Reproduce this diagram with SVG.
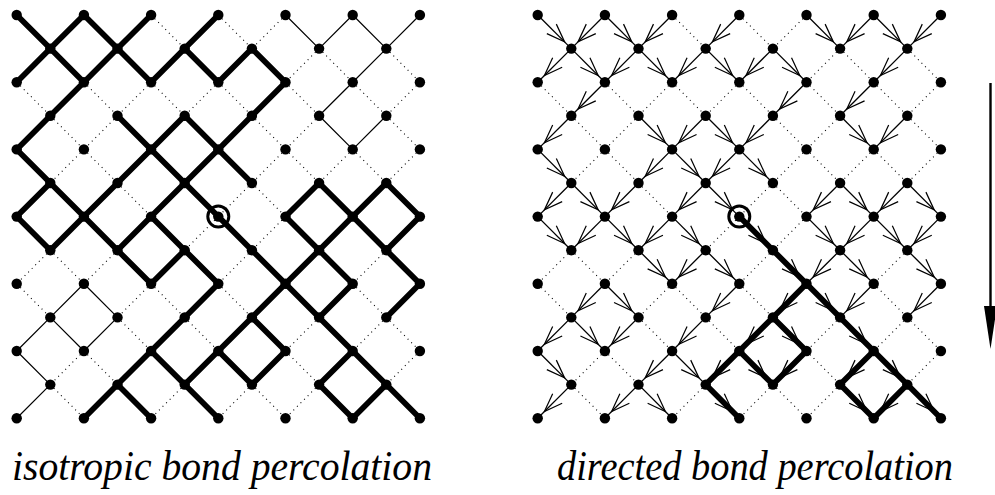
<svg xmlns="http://www.w3.org/2000/svg" width="995" height="495" viewBox="0 0 995 495">
<style>
.d{fill:none;stroke:#000;stroke-width:3.3;stroke-dasharray:3 12}
.t{fill:none;stroke:#000;stroke-width:3.6;stroke-linecap:round}
.T{fill:none;stroke:#000;stroke-width:17;stroke-linecap:round;stroke-linejoin:round}
.a{stroke:#000;stroke-width:3.9;marker-end:url(#chev)}
.n circle{fill:#000}
.n circle.o{fill:none;stroke:#000;stroke-width:8.9}
.lab{font-family:"Liberation Serif","Times New Roman",serif;font-style:italic;font-size:42px;fill:#000}
</style>
<defs>
<marker id="chev" markerUnits="userSpaceOnUse" orient="auto" overflow="visible" markerWidth="1" markerHeight="1" refX="0" refY="0">
<path d="M-83,-20L-28.3,0L-83,20" fill="none" stroke="#000" stroke-width="3.6"/>
</marker>
</defs>

<g id="connectors">
<g id="left-connectors" transform="translate(16.7,15) scale(0.336)">
<path class="d" d="M400 0L500 100M600 0L700 100M800 0L700 100M900 100L800 200M900 100L1000 200M1100 100L1200 200M0 200L100 300M200 200L300 300M400 200L300 300M400 200L500 300M600 200L500 300M600 200L700 300M800 200L900 300M1000 200L1100 300M1200 200L1100 300M100 300L200 400M300 300L200 400M700 300L800 400M900 300L800 400M1100 300L1200 400M200 400L100 500M200 400L300 500M800 400L700 500M800 400L900 500M1000 400L900 500M1000 400L1100 500M1200 400L1100 500M300 500L400 600M700 500L600 600M700 500L800 600M600 600L500 700M800 600L700 700M100 700L0 800M100 700L200 800M300 700L200 800M700 700L600 800M1100 700L1000 800M0 800L100 900M400 800L300 900M400 800L500 900M600 800L700 900M1000 800L1100 900M300 900L400 1000M500 900L600 1000M900 900L800 1000M1100 900L1000 1000M1100 900L1200 1000M200 1000L100 1100M200 1000L300 1100M800 1000L900 1100M1200 1000L1100 1100M100 1100L200 1200M500 1100L400 1200M700 1100L600 1200M700 1100L800 1200M900 1100L800 1200"/>
<path class="t" d="M800 0L900 100M1000 0L900 100M1000 0L1100 100M1200 0L1100 100M1100 100L1000 200M1000 200L900 300M900 300L1000 400M1100 300L1000 400M200 800L100 900M200 800L300 900M100 900L0 1000M100 900L200 1000M300 900L200 1000M0 1000L100 1100M100 1100L0 1200"/>
<path class="T" d="M0 0L100 100M200 0L100 100M200 0L300 100M400 0L300 100M600 0L500 100M100 100L0 200M100 100L200 200M300 100L200 200M300 100L400 200M500 100L400 200M500 100L600 200M700 100L600 200M700 100L800 200M200 200L100 300M800 200L700 300M100 300L0 400M300 300L400 400M500 300L400 400M500 300L600 400M700 300L600 400M0 400L100 500M400 400L300 500M400 400L500 500M600 400L500 500M600 400L700 500M100 500L0 600M100 500L200 600M300 500L200 600M500 500L400 600M500 500L600 600M900 500L800 600M900 500L1000 600M1100 500L1000 600M1100 500L1200 600M0 600L100 700M200 600L100 700M200 600L300 700M400 600L300 700M400 600L500 700M600 600L700 700M800 600L900 700M1000 600L900 700M1000 600L1100 700M1200 600L1100 700M300 700L400 800M500 700L400 800M500 700L600 800M700 700L800 800M900 700L800 800M900 700L1000 800M1100 700L1200 800M600 800L500 900M800 800L700 900M800 800L900 900M1000 800L900 900M1200 800L1100 900M500 900L400 1000M700 900L600 1000M700 900L800 1000M900 900L1000 1000M400 1000L300 1100M400 1000L500 1100M600 1000L500 1100M600 1000L700 1100M800 1000L700 1100M1000 1000L900 1100M1000 1000L1100 1100M300 1100L200 1200M300 1100L400 1200M500 1100L600 1200M900 1100L1000 1200M1100 1100L1000 1200M1100 1100L1200 1200"/>
</g>
<g id="right-connectors" transform="translate(537.7,15) scale(0.336)">
<path class="d" d="M400 0L500 100M600 0L700 100M800 0L700 100M900 100L800 200M900 100L1000 200M1100 100L1200 200M0 200L100 300M200 200L300 300M400 200L300 300M400 200L500 300M600 200L500 300M600 200L700 300M800 200L900 300M1000 200L1100 300M1200 200L1100 300M100 300L200 400M300 300L200 400M700 300L800 400M900 300L800 400M1100 300L1200 400M200 400L100 500M200 400L300 500M800 400L700 500M800 400L900 500M1000 400L900 500M1000 400L1100 500M1200 400L1100 500M300 500L400 600M700 500L600 600M700 500L800 600M600 600L500 700M800 600L700 700M100 700L0 800M100 700L200 800M300 700L200 800M700 700L600 800M1100 700L1000 800M0 800L100 900M400 800L300 900M400 800L500 900M600 800L700 900M1000 800L1100 900M300 900L400 1000M500 900L600 1000M900 900L800 1000M1100 900L1000 1000M1100 900L1200 1000M200 1000L100 1100M200 1000L300 1100M800 1000L900 1100M1200 1000L1100 1100M100 1100L200 1200M500 1100L400 1200M700 1100L600 1200M700 1100L800 1200M900 1100L800 1200"/>
<path class="T" d="M600 600L700 700M700 700L800 800M800 800L700 900M800 800L900 900M700 900L600 1000M700 900L800 1000M900 900L1000 1000M600 1000L500 1100M600 1000L700 1100M800 1000L700 1100M1000 1000L900 1100M1000 1000L1100 1100M500 1100L600 1200M900 1100L1000 1200M1100 1100L1000 1200M1100 1100L1200 1200"/>
<line class="a" x1="0" y1="0" x2="100" y2="100"/>
<line class="a" x1="200" y1="0" x2="100" y2="100"/>
<line class="a" x1="200" y1="0" x2="300" y2="100"/>
<line class="a" x1="400" y1="0" x2="300" y2="100"/>
<line class="a" x1="600" y1="0" x2="500" y2="100"/>
<line class="a" x1="800" y1="0" x2="900" y2="100"/>
<line class="a" x1="1000" y1="0" x2="900" y2="100"/>
<line class="a" x1="1000" y1="0" x2="1100" y2="100"/>
<line class="a" x1="1200" y1="0" x2="1100" y2="100"/>
<line class="a" x1="100" y1="100" x2="0" y2="200"/>
<line class="a" x1="100" y1="100" x2="200" y2="200"/>
<line class="a" x1="300" y1="100" x2="200" y2="200"/>
<line class="a" x1="300" y1="100" x2="400" y2="200"/>
<line class="a" x1="500" y1="100" x2="400" y2="200"/>
<line class="a" x1="500" y1="100" x2="600" y2="200"/>
<line class="a" x1="700" y1="100" x2="600" y2="200"/>
<line class="a" x1="700" y1="100" x2="800" y2="200"/>
<line class="a" x1="1100" y1="100" x2="1000" y2="200"/>
<line class="a" x1="200" y1="200" x2="100" y2="300"/>
<line class="a" x1="800" y1="200" x2="700" y2="300"/>
<line class="a" x1="1000" y1="200" x2="900" y2="300"/>
<line class="a" x1="100" y1="300" x2="0" y2="400"/>
<line class="a" x1="300" y1="300" x2="400" y2="400"/>
<line class="a" x1="500" y1="300" x2="400" y2="400"/>
<line class="a" x1="500" y1="300" x2="600" y2="400"/>
<line class="a" x1="700" y1="300" x2="600" y2="400"/>
<line class="a" x1="900" y1="300" x2="1000" y2="400"/>
<line class="a" x1="1100" y1="300" x2="1000" y2="400"/>
<line class="a" x1="0" y1="400" x2="100" y2="500"/>
<line class="a" x1="400" y1="400" x2="300" y2="500"/>
<line class="a" x1="400" y1="400" x2="500" y2="500"/>
<line class="a" x1="600" y1="400" x2="500" y2="500"/>
<line class="a" x1="600" y1="400" x2="700" y2="500"/>
<line class="a" x1="100" y1="500" x2="0" y2="600"/>
<line class="a" x1="100" y1="500" x2="200" y2="600"/>
<line class="a" x1="300" y1="500" x2="200" y2="600"/>
<line class="a" x1="500" y1="500" x2="400" y2="600"/>
<line class="a" x1="500" y1="500" x2="600" y2="600"/>
<line class="a" x1="900" y1="500" x2="800" y2="600"/>
<line class="a" x1="900" y1="500" x2="1000" y2="600"/>
<line class="a" x1="1100" y1="500" x2="1000" y2="600"/>
<line class="a" x1="1100" y1="500" x2="1200" y2="600"/>
<line class="a" x1="0" y1="600" x2="100" y2="700"/>
<line class="a" x1="200" y1="600" x2="100" y2="700"/>
<line class="a" x1="200" y1="600" x2="300" y2="700"/>
<line class="a" x1="400" y1="600" x2="300" y2="700"/>
<line class="a" x1="400" y1="600" x2="500" y2="700"/>
<line class="a" x1="600" y1="600" x2="700" y2="700"/>
<line class="a" x1="800" y1="600" x2="900" y2="700"/>
<line class="a" x1="1000" y1="600" x2="900" y2="700"/>
<line class="a" x1="1000" y1="600" x2="1100" y2="700"/>
<line class="a" x1="1200" y1="600" x2="1100" y2="700"/>
<line class="a" x1="300" y1="700" x2="400" y2="800"/>
<line class="a" x1="500" y1="700" x2="400" y2="800"/>
<line class="a" x1="500" y1="700" x2="600" y2="800"/>
<line class="a" x1="700" y1="700" x2="800" y2="800"/>
<line class="a" x1="900" y1="700" x2="800" y2="800"/>
<line class="a" x1="900" y1="700" x2="1000" y2="800"/>
<line class="a" x1="1100" y1="700" x2="1200" y2="800"/>
<line class="a" x1="200" y1="800" x2="100" y2="900"/>
<line class="a" x1="200" y1="800" x2="300" y2="900"/>
<line class="a" x1="600" y1="800" x2="500" y2="900"/>
<line class="a" x1="800" y1="800" x2="700" y2="900"/>
<line class="a" x1="800" y1="800" x2="900" y2="900"/>
<line class="a" x1="1000" y1="800" x2="900" y2="900"/>
<line class="a" x1="1200" y1="800" x2="1100" y2="900"/>
<line class="a" x1="100" y1="900" x2="0" y2="1000"/>
<line class="a" x1="100" y1="900" x2="200" y2="1000"/>
<line class="a" x1="300" y1="900" x2="200" y2="1000"/>
<line class="a" x1="500" y1="900" x2="400" y2="1000"/>
<line class="a" x1="700" y1="900" x2="600" y2="1000"/>
<line class="a" x1="700" y1="900" x2="800" y2="1000"/>
<line class="a" x1="900" y1="900" x2="1000" y2="1000"/>
<line class="a" x1="0" y1="1000" x2="100" y2="1100"/>
<line class="a" x1="400" y1="1000" x2="300" y2="1100"/>
<line class="a" x1="400" y1="1000" x2="500" y2="1100"/>
<line class="a" x1="600" y1="1000" x2="500" y2="1100"/>
<line class="a" x1="600" y1="1000" x2="700" y2="1100"/>
<line class="a" x1="800" y1="1000" x2="700" y2="1100"/>
<line class="a" x1="1000" y1="1000" x2="900" y2="1100"/>
<line class="a" x1="1000" y1="1000" x2="1100" y2="1100"/>
<line class="a" x1="100" y1="1100" x2="0" y2="1200"/>
<line class="a" x1="300" y1="1100" x2="200" y2="1200"/>
<line class="a" x1="300" y1="1100" x2="400" y2="1200"/>
<line class="a" x1="500" y1="1100" x2="600" y2="1200"/>
<line class="a" x1="900" y1="1100" x2="1000" y2="1200"/>
<line class="a" x1="1100" y1="1100" x2="1000" y2="1200"/>
<line class="a" x1="1100" y1="1100" x2="1200" y2="1200"/>
</g>
<g id="time-arrow">
<line x1="990.5" y1="83" x2="990.5" y2="312" stroke="#000" stroke-width="2.4"/>
<polygon points="984,306 997,306 990.5,349" fill="#000"/>
</g>
</g>

<g id="left-nodes" class="n" transform="translate(16.7,15) scale(0.336)">
<g id="L0_0"><circle cx="0" cy="0" r="15.5"/></g><g id="L2_0"><circle cx="200" cy="0" r="15.5"/></g><g id="L4_0"><circle cx="400" cy="0" r="15.5"/></g><g id="L6_0"><circle cx="600" cy="0" r="15.5"/></g><g id="L8_0"><circle cx="800" cy="0" r="15.5"/></g><g id="L10_0"><circle cx="1000" cy="0" r="15.5"/></g><g id="L12_0"><circle cx="1200" cy="0" r="15.5"/></g>
<g id="L1_1"><circle cx="100" cy="100" r="15.5"/></g><g id="L3_1"><circle cx="300" cy="100" r="15.5"/></g><g id="L5_1"><circle cx="500" cy="100" r="15.5"/></g><g id="L7_1"><circle cx="700" cy="100" r="15.5"/></g><g id="L9_1"><circle cx="900" cy="100" r="15.5"/></g><g id="L11_1"><circle cx="1100" cy="100" r="15.5"/></g>
<g id="L0_2"><circle cx="0" cy="200" r="15.5"/></g><g id="L2_2"><circle cx="200" cy="200" r="15.5"/></g><g id="L4_2"><circle cx="400" cy="200" r="15.5"/></g><g id="L6_2"><circle cx="600" cy="200" r="15.5"/></g><g id="L8_2"><circle cx="800" cy="200" r="15.5"/></g><g id="L10_2"><circle cx="1000" cy="200" r="15.5"/></g><g id="L12_2"><circle cx="1200" cy="200" r="15.5"/></g>
<g id="L1_3"><circle cx="100" cy="300" r="15.5"/></g><g id="L3_3"><circle cx="300" cy="300" r="15.5"/></g><g id="L5_3"><circle cx="500" cy="300" r="15.5"/></g><g id="L7_3"><circle cx="700" cy="300" r="15.5"/></g><g id="L9_3"><circle cx="900" cy="300" r="15.5"/></g><g id="L11_3"><circle cx="1100" cy="300" r="15.5"/></g>
<g id="L0_4"><circle cx="0" cy="400" r="15.5"/></g><g id="L2_4"><circle cx="200" cy="400" r="15.5"/></g><g id="L4_4"><circle cx="400" cy="400" r="15.5"/></g><g id="L6_4"><circle cx="600" cy="400" r="15.5"/></g><g id="L8_4"><circle cx="800" cy="400" r="15.5"/></g><g id="L10_4"><circle cx="1000" cy="400" r="15.5"/></g><g id="L12_4"><circle cx="1200" cy="400" r="15.5"/></g>
<g id="L1_5"><circle cx="100" cy="500" r="15.5"/></g><g id="L3_5"><circle cx="300" cy="500" r="15.5"/></g><g id="L5_5"><circle cx="500" cy="500" r="15.5"/></g><g id="L7_5"><circle cx="700" cy="500" r="15.5"/></g><g id="L9_5"><circle cx="900" cy="500" r="15.5"/></g><g id="L11_5"><circle cx="1100" cy="500" r="15.5"/></g>
<g id="L0_6"><circle cx="0" cy="600" r="15.5"/></g><g id="L2_6"><circle cx="200" cy="600" r="15.5"/></g><g id="L4_6"><circle cx="400" cy="600" r="15.5"/></g><g id="L6_6"><circle cx="600" cy="600" r="15.5"/><circle class="o" cx="600" cy="600" r="31.25"/></g><g id="L8_6"><circle cx="800" cy="600" r="15.5"/></g><g id="L10_6"><circle cx="1000" cy="600" r="15.5"/></g><g id="L12_6"><circle cx="1200" cy="600" r="15.5"/></g>
<g id="L1_7"><circle cx="100" cy="700" r="15.5"/></g><g id="L3_7"><circle cx="300" cy="700" r="15.5"/></g><g id="L5_7"><circle cx="500" cy="700" r="15.5"/></g><g id="L7_7"><circle cx="700" cy="700" r="15.5"/></g><g id="L9_7"><circle cx="900" cy="700" r="15.5"/></g><g id="L11_7"><circle cx="1100" cy="700" r="15.5"/></g>
<g id="L0_8"><circle cx="0" cy="800" r="15.5"/></g><g id="L2_8"><circle cx="200" cy="800" r="15.5"/></g><g id="L4_8"><circle cx="400" cy="800" r="15.5"/></g><g id="L6_8"><circle cx="600" cy="800" r="15.5"/></g><g id="L8_8"><circle cx="800" cy="800" r="15.5"/></g><g id="L10_8"><circle cx="1000" cy="800" r="15.5"/></g><g id="L12_8"><circle cx="1200" cy="800" r="15.5"/></g>
<g id="L1_9"><circle cx="100" cy="900" r="15.5"/></g><g id="L3_9"><circle cx="300" cy="900" r="15.5"/></g><g id="L5_9"><circle cx="500" cy="900" r="15.5"/></g><g id="L7_9"><circle cx="700" cy="900" r="15.5"/></g><g id="L9_9"><circle cx="900" cy="900" r="15.5"/></g><g id="L11_9"><circle cx="1100" cy="900" r="15.5"/></g>
<g id="L0_10"><circle cx="0" cy="1000" r="15.5"/></g><g id="L2_10"><circle cx="200" cy="1000" r="15.5"/></g><g id="L4_10"><circle cx="400" cy="1000" r="15.5"/></g><g id="L6_10"><circle cx="600" cy="1000" r="15.5"/></g><g id="L8_10"><circle cx="800" cy="1000" r="15.5"/></g><g id="L10_10"><circle cx="1000" cy="1000" r="15.5"/></g><g id="L12_10"><circle cx="1200" cy="1000" r="15.5"/></g>
<g id="L1_11"><circle cx="100" cy="1100" r="15.5"/></g><g id="L3_11"><circle cx="300" cy="1100" r="15.5"/></g><g id="L5_11"><circle cx="500" cy="1100" r="15.5"/></g><g id="L7_11"><circle cx="700" cy="1100" r="15.5"/></g><g id="L9_11"><circle cx="900" cy="1100" r="15.5"/></g><g id="L11_11"><circle cx="1100" cy="1100" r="15.5"/></g>
<g id="L0_12"><circle cx="0" cy="1200" r="15.5"/></g><g id="L2_12"><circle cx="200" cy="1200" r="15.5"/></g><g id="L4_12"><circle cx="400" cy="1200" r="15.5"/></g><g id="L6_12"><circle cx="600" cy="1200" r="15.5"/></g><g id="L8_12"><circle cx="800" cy="1200" r="15.5"/></g><g id="L10_12"><circle cx="1000" cy="1200" r="15.5"/></g><g id="L12_12"><circle cx="1200" cy="1200" r="15.5"/></g>
</g>

<g id="right-nodes" class="n" transform="translate(537.7,15) scale(0.336)">
<g id="R0_0"><circle cx="0" cy="0" r="15.5"/></g><g id="R2_0"><circle cx="200" cy="0" r="15.5"/></g><g id="R4_0"><circle cx="400" cy="0" r="15.5"/></g><g id="R6_0"><circle cx="600" cy="0" r="15.5"/></g><g id="R8_0"><circle cx="800" cy="0" r="15.5"/></g><g id="R10_0"><circle cx="1000" cy="0" r="15.5"/></g><g id="R12_0"><circle cx="1200" cy="0" r="15.5"/></g>
<g id="R1_1"><circle cx="100" cy="100" r="15.5"/></g><g id="R3_1"><circle cx="300" cy="100" r="15.5"/></g><g id="R5_1"><circle cx="500" cy="100" r="15.5"/></g><g id="R7_1"><circle cx="700" cy="100" r="15.5"/></g><g id="R9_1"><circle cx="900" cy="100" r="15.5"/></g><g id="R11_1"><circle cx="1100" cy="100" r="15.5"/></g>
<g id="R0_2"><circle cx="0" cy="200" r="15.5"/></g><g id="R2_2"><circle cx="200" cy="200" r="15.5"/></g><g id="R4_2"><circle cx="400" cy="200" r="15.5"/></g><g id="R6_2"><circle cx="600" cy="200" r="15.5"/></g><g id="R8_2"><circle cx="800" cy="200" r="15.5"/></g><g id="R10_2"><circle cx="1000" cy="200" r="15.5"/></g><g id="R12_2"><circle cx="1200" cy="200" r="15.5"/></g>
<g id="R1_3"><circle cx="100" cy="300" r="15.5"/></g><g id="R3_3"><circle cx="300" cy="300" r="15.5"/></g><g id="R5_3"><circle cx="500" cy="300" r="15.5"/></g><g id="R7_3"><circle cx="700" cy="300" r="15.5"/></g><g id="R9_3"><circle cx="900" cy="300" r="15.5"/></g><g id="R11_3"><circle cx="1100" cy="300" r="15.5"/></g>
<g id="R0_4"><circle cx="0" cy="400" r="15.5"/></g><g id="R2_4"><circle cx="200" cy="400" r="15.5"/></g><g id="R4_4"><circle cx="400" cy="400" r="15.5"/></g><g id="R6_4"><circle cx="600" cy="400" r="15.5"/></g><g id="R8_4"><circle cx="800" cy="400" r="15.5"/></g><g id="R10_4"><circle cx="1000" cy="400" r="15.5"/></g><g id="R12_4"><circle cx="1200" cy="400" r="15.5"/></g>
<g id="R1_5"><circle cx="100" cy="500" r="15.5"/></g><g id="R3_5"><circle cx="300" cy="500" r="15.5"/></g><g id="R5_5"><circle cx="500" cy="500" r="15.5"/></g><g id="R7_5"><circle cx="700" cy="500" r="15.5"/></g><g id="R9_5"><circle cx="900" cy="500" r="15.5"/></g><g id="R11_5"><circle cx="1100" cy="500" r="15.5"/></g>
<g id="R0_6"><circle cx="0" cy="600" r="15.5"/></g><g id="R2_6"><circle cx="200" cy="600" r="15.5"/></g><g id="R4_6"><circle cx="400" cy="600" r="15.5"/></g><g id="R6_6"><circle cx="600" cy="600" r="15.5"/><circle class="o" cx="600" cy="600" r="31.25"/></g><g id="R8_6"><circle cx="800" cy="600" r="15.5"/></g><g id="R10_6"><circle cx="1000" cy="600" r="15.5"/></g><g id="R12_6"><circle cx="1200" cy="600" r="15.5"/></g>
<g id="R1_7"><circle cx="100" cy="700" r="15.5"/></g><g id="R3_7"><circle cx="300" cy="700" r="15.5"/></g><g id="R5_7"><circle cx="500" cy="700" r="15.5"/></g><g id="R7_7"><circle cx="700" cy="700" r="15.5"/></g><g id="R9_7"><circle cx="900" cy="700" r="15.5"/></g><g id="R11_7"><circle cx="1100" cy="700" r="15.5"/></g>
<g id="R0_8"><circle cx="0" cy="800" r="15.5"/></g><g id="R2_8"><circle cx="200" cy="800" r="15.5"/></g><g id="R4_8"><circle cx="400" cy="800" r="15.5"/></g><g id="R6_8"><circle cx="600" cy="800" r="15.5"/></g><g id="R8_8"><circle cx="800" cy="800" r="15.5"/></g><g id="R10_8"><circle cx="1000" cy="800" r="15.5"/></g><g id="R12_8"><circle cx="1200" cy="800" r="15.5"/></g>
<g id="R1_9"><circle cx="100" cy="900" r="15.5"/></g><g id="R3_9"><circle cx="300" cy="900" r="15.5"/></g><g id="R5_9"><circle cx="500" cy="900" r="15.5"/></g><g id="R7_9"><circle cx="700" cy="900" r="15.5"/></g><g id="R9_9"><circle cx="900" cy="900" r="15.5"/></g><g id="R11_9"><circle cx="1100" cy="900" r="15.5"/></g>
<g id="R0_10"><circle cx="0" cy="1000" r="15.5"/></g><g id="R2_10"><circle cx="200" cy="1000" r="15.5"/></g><g id="R4_10"><circle cx="400" cy="1000" r="15.5"/></g><g id="R6_10"><circle cx="600" cy="1000" r="15.5"/></g><g id="R8_10"><circle cx="800" cy="1000" r="15.5"/></g><g id="R10_10"><circle cx="1000" cy="1000" r="15.5"/></g><g id="R12_10"><circle cx="1200" cy="1000" r="15.5"/></g>
<g id="R1_11"><circle cx="100" cy="1100" r="15.5"/></g><g id="R3_11"><circle cx="300" cy="1100" r="15.5"/></g><g id="R5_11"><circle cx="500" cy="1100" r="15.5"/></g><g id="R7_11"><circle cx="700" cy="1100" r="15.5"/></g><g id="R9_11"><circle cx="900" cy="1100" r="15.5"/></g><g id="R11_11"><circle cx="1100" cy="1100" r="15.5"/></g>
<g id="R0_12"><circle cx="0" cy="1200" r="15.5"/></g><g id="R2_12"><circle cx="200" cy="1200" r="15.5"/></g><g id="R4_12"><circle cx="400" cy="1200" r="15.5"/></g><g id="R6_12"><circle cx="600" cy="1200" r="15.5"/></g><g id="R8_12"><circle cx="800" cy="1200" r="15.5"/></g><g id="R10_12"><circle cx="1000" cy="1200" r="15.5"/></g><g id="R12_12"><circle cx="1200" cy="1200" r="15.5"/></g>
</g>

<g id="labels">
<text class="lab" x="12" y="480" textLength="420" lengthAdjust="spacingAndGlyphs">isotropic bond percolation</text>
<text class="lab" x="557" y="480" textLength="396" lengthAdjust="spacingAndGlyphs">directed bond percolation</text>
</g>
</svg>
